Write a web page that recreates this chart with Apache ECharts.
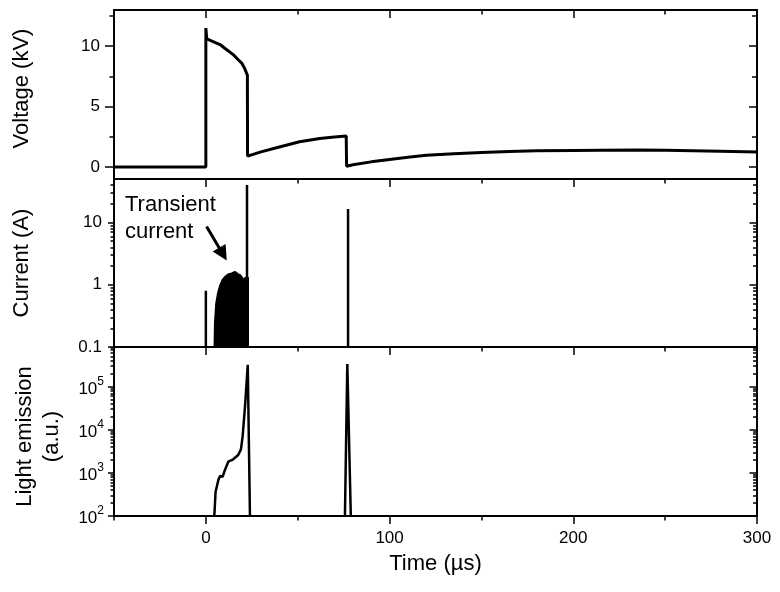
<!DOCTYPE html>
<html><head><meta charset="utf-8">
<script src="https://cdn.jsdelivr.net/npm/echarts@6/dist/echarts.min.js"></script>
<style>html,body{margin:0;padding:0;background:#fff}#c{width:780px;height:592px}</style>
</head><body><div id="c"></div>
<script>
// ---------------- data ----------------
const voltTime = [-50, 0, 0, 0.5, 3, 7.7, 11, 14.9, 17.5, 19.5, 21, 22.6, 22.7, 30, 40, 51, 62, 70, 76.4, 76.6, 80, 90, 100, 110, 120, 135, 150, 165, 180, 200, 215, 235, 250, 265, 280, 300];
const voltKV   = [0, 0, 11.5, 10.6, 10.45, 10.14, 9.75, 9.3, 8.9, 8.6, 8.2, 7.6, 0.9, 1.25, 1.65, 2.08, 2.36, 2.48, 2.56, 0.05, 0.18, 0.42, 0.62, 0.8, 0.97, 1.1, 1.2, 1.28, 1.33, 1.37, 1.39, 1.4, 1.38, 1.35, 1.3, 1.23];

const spikeTime  = [0, 22.4, 77.4];
const spikePeakA = [0.8, 40, 16.5];

const transTime = [4.6, 4.8, 5.5, 6.5, 7.7, 9, 10.4, 12, 13, 14, 15, 15.8, 16.8, 17.7, 19, 20.4, 21.5, 22.5, 23.5];
const transA    = [0.1, 0.24, 0.5, 0.74, 0.99, 1.2, 1.35, 1.47, 1.5, 1.53, 1.58, 1.62, 1.55, 1.48, 1.42, 1.22, 1.3, 1.3, 1.28];

const light1Time = [4.6, 5.3, 6.8, 7.7, 9.1, 10.4, 12.2, 14.9, 17.6, 19.1, 20, 21.3, 22.8, 24];
const light1     = [100, 366, 684, 847, 813, 1170, 1820, 2070, 2600, 3500, 6900, 34000, 320000, 100];
const light2Time = [75.7, 77, 78.9];
const light2     = [100, 336000, 100];

// annotation arrow (data coords: time, current)
const arrowFrom = [0.4, 8.6];
const arrowTo   = [9.3, 3.1];

// ---------------- axes / ticks ----------------
const X_MIN = -50, X_MAX = 300;
const xMajorTicks = [0, 100, 200, 300];
const xMinorTicks = [-50, 50, 150, 250];
const voltRange = [-1, 13];
const voltMajor = [0, 5, 10];
const voltMinor = [2.5, 7.5, 12.5];
const currRange = [0.0999999, 50];
const currMajor = [0.1, 1, 10];
const lightRange = [99.9999, 830000];
const lightMajor = [100, 1000, 10000, 100000];

function logMinors(decades, max) {
  const out = [];
  decades.forEach(d => { for (let k = 2; k <= 9; k++) { const v = +(d * k).toPrecision(6); if (v < max) out.push(v); } });
  return out;
}
const currMinor = logMinors([0.1, 1, 10], 50);
const lightMinor = logMinors([100, 1000, 10000, 100000], 830000);

const FONT = 'Liberation Sans';
const BLACK = '#000';
const AXLINE = {color: BLACK, width: 2};
const TICK = {color: BLACK, width: 1.5};

function mkX(grid, pos, ticks, len, inside, line, extra) {
  return Object.assign({
    type: 'value', gridIndex: grid, position: pos, min: X_MIN, max: X_MAX,
    axisLine: {show: line, onZero: false, lineStyle: AXLINE},
    axisTick: ticks ? {show: true, inside: inside, length: len, customValues: ticks, lineStyle: TICK} : {show: false},
    axisLabel: {show: false},
    splitLine: {show: false}, minorTick: {show: false}
  }, extra || {});
}

function mkYSet(grid, type, range, major, minor, lens, labelOpt, nameOpt) {
  const base = {type: type, gridIndex: grid, min: range[0], max: range[1],
    splitLine: {show: false}, minorTick: {show: false}, axisLabel: {show: false}};
  if (type === 'log') base.logBase = 10;
  return [
    Object.assign({}, base, {position: 'left', axisLine: {show: true, onZero: false, lineStyle: AXLINE},
      axisTick: {show: true, inside: false, length: lens[0], customValues: major, lineStyle: TICK},
      axisLabel: labelOpt}, nameOpt),
    Object.assign({}, base, {position: 'left', axisLine: {show: false, onZero: false},
      axisTick: {show: true, inside: false, length: lens[1], customValues: minor, lineStyle: TICK}}),
    Object.assign({}, base, {position: 'right', axisLine: {show: true, onZero: false, lineStyle: AXLINE},
      axisTick: {show: true, inside: true, length: lens[2], customValues: major, lineStyle: TICK}}),
    Object.assign({}, base, {position: 'right', axisLine: {show: false, onZero: false},
      axisTick: {show: true, inside: true, length: lens[3], customValues: minor, lineStyle: TICK}})
  ];
}

const nameStyle = {fontSize: 22, fontFamily: FONT, color: BLACK};
const labelStyle = {color: BLACK, fontSize: 17, fontFamily: FONT};

const xAxes = [
  mkX(0, 'bottom', null, 0, false, true),                 // 0 series axis, panel 1
  mkX(0, 'top', xMajorTicks, 8, true, true),              // 1
  mkX(0, 'top', xMinorTicks, 4.5, true, false),           // 2
  mkX(1, 'bottom', null, 0, false, true),                 // 3 series axis, panel 2
  mkX(1, 'top', xMajorTicks, 8, true, true),              // 4
  mkX(1, 'top', xMinorTicks, 4.5, true, false),           // 5
  mkX(2, 'bottom', xMajorTicks, 8, false, true, {         // 6 series axis, panel 3
    axisLabel: Object.assign({show: true, customValues: xMajorTicks, margin: 14}, labelStyle),
    name: 'Time (µs)', nameLocation: 'middle', nameGap: 37, nameTextStyle: nameStyle
  }),
  mkX(2, 'bottom', xMinorTicks, 4.5, false, false),       // 7
  mkX(2, 'top', xMajorTicks, 8, true, true),              // 8
  mkX(2, 'top', xMinorTicks, 4.5, true, false)            // 9
];

const yAxes = [].concat(
  mkYSet(0, 'value', voltRange, voltMajor, voltMinor, [9, 4.5, 8, 5],
    Object.assign({show: true, customValues: voltMajor, margin: 14}, labelStyle),
    {name: 'Voltage (kV)', nameLocation: 'middle', nameGap: 81,
     nameTextStyle: Object.assign({padding: [0, 0, 0, 12]}, nameStyle)}),
  mkYSet(1, 'log', currRange, currMajor, currMinor, [6, 3.5, 7.5, 4],
    Object.assign({show: true, customValues: currMajor, margin: 12,
     formatter: v => String(+(+v).toPrecision(3))}, labelStyle),
    {name: 'Current (A)', nameLocation: 'middle', nameGap: 81, nameTextStyle: nameStyle}),
  mkYSet(2, 'log', lightRange, lightMajor, lightMinor, [6, 3.5, 7.5, 4],
    Object.assign({show: true, customValues: lightMajor, margin: 10,
     formatter: v => '{b|10}{s|' + Math.round(Math.log10(v)) + '}',
     rich: {
       b: {fontSize: 17, fontFamily: FONT, color: BLACK, verticalAlign: 'bottom'},
       s: {fontSize: 12, fontFamily: FONT, color: BLACK, verticalAlign: 'bottom', padding: [0, 0, 10, 0]}
     }}, labelStyle),
    {name: 'Light emission\n(a.u.)', nameLocation: 'middle', nameGap: 49,
     nameTextStyle: Object.assign({lineHeight: 27, padding: [0, 10, 0, 0]}, nameStyle)})
);

const pairs = (xs, ys) => xs.map((x, i) => [x, ys[i]]);
const lineBase = {type: 'line', showSymbol: false, symbol: 'none', silent: true, emphasis: {disabled: true}, animation: false};

const series = [
  Object.assign({}, lineBase, {name: 'Voltage', xAxisIndex: 0, yAxisIndex: 0,
    data: pairs(voltTime, voltKV), lineStyle: {color: BLACK, width: 3}}),
  Object.assign({}, lineBase, {name: 'Transient current', xAxisIndex: 3, yAxisIndex: 4,
    data: pairs(transTime, transA), lineStyle: {color: BLACK, width: 1.5},
    areaStyle: {color: BLACK, opacity: 1, origin: 'start'},
    markLine: {silent: true, animation: false, symbol: ['none', 'triangle'], symbolSize: 15,
      lineStyle: {color: BLACK, width: 3, type: 'solid'}, label: {show: false}, emphasis: {disabled: true},
      data: [[{coord: arrowFrom}, {coord: arrowTo}]]}})
].concat(spikeTime.map((t, i) => Object.assign({}, lineBase, {name: 'Current spike ' + (i + 1),
    xAxisIndex: 3, yAxisIndex: 4, data: [[t, currMajor[0]], [t, spikePeakA[i]]],
    lineStyle: {color: BLACK, width: 2.5}})))
 .concat([
  Object.assign({}, lineBase, {name: 'Light 1', xAxisIndex: 6, yAxisIndex: 8,
    data: pairs(light1Time, light1), lineStyle: {color: BLACK, width: 2.5}}),
  Object.assign({}, lineBase, {name: 'Light 2', xAxisIndex: 6, yAxisIndex: 8,
    data: pairs(light2Time, light2), lineStyle: {color: BLACK, width: 2.5}})
 ]);

const chart = echarts.init(document.getElementById('c'), null, {renderer: 'canvas'});
chart.setOption({
  backgroundColor: '#fff',
  animation: false,
  grid: [
    {left: 114, top: 10, width: 643, height: 169, outerBoundsMode: 'none'},
    {left: 114, top: 179, width: 643, height: 168, outerBoundsMode: 'none'},
    {left: 114, top: 347, width: 643, height: 169, outerBoundsMode: 'none'}
  ],
  xAxis: xAxes,
  yAxis: yAxes,
  series: series,
  graphic: [{type: 'text', left: 125, top: 191, silent: true,
    style: {text: 'Transient\ncurrent', fill: BLACK, fontSize: 22, fontFamily: FONT, lineHeight: 27}}]
});
</script></body></html>
